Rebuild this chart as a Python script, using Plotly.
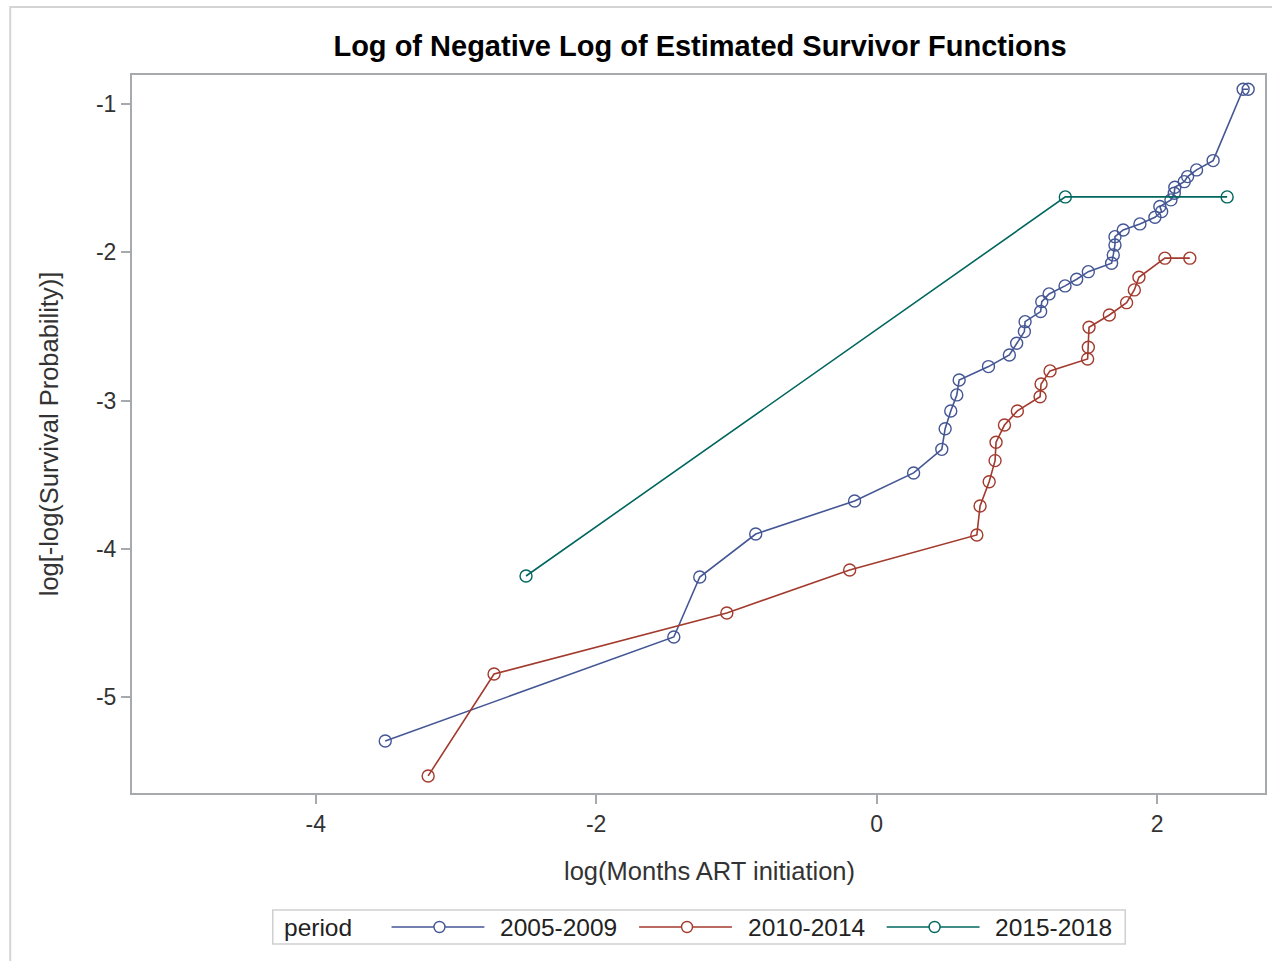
import plotly.graph_objects as go

# ---- data ----
x_2005 = [-3.504, -1.446, -1.261, -0.862, -0.157, 0.264, 0.465, 0.489, 0.529, 0.572, 0.589,
          0.798, 0.947, 0.999, 1.054, 1.059, 1.170, 1.178, 1.230, 1.344, 1.427, 1.510,
          1.676, 1.688, 1.700, 1.700, 1.759, 1.878, 1.985, 2.033, 2.020, 2.099, 2.123,
          2.127, 2.194, 2.218, 2.282, 2.400, 2.614, 2.650]
y_2005 = [-5.295, -4.594, -4.190, -3.900, -3.677, -3.488, -3.329, -3.190, -3.070, -2.962, -2.861,
          -2.771, -2.693, -2.614, -2.535, -2.468, -2.400, -2.333, -2.281, -2.227, -2.182, -2.131,
          -2.074, -2.018, -1.951, -1.895, -1.850, -1.809, -1.764, -1.726, -1.692, -1.647, -1.602,
          -1.562, -1.524, -1.490, -1.445, -1.382, -0.901, -0.901]

x_2010 = [-3.198, -2.728, -1.068, -0.192, 0.715, 0.738, 0.803, 0.845, 0.852, 0.912, 1.004,
          1.166, 1.173, 1.237, 1.505, 1.510, 1.515, 1.660, 1.783, 1.838, 1.871, 2.056, 2.234]
y_2010 = [-5.531, -4.844, -4.432, -4.142, -3.906, -3.711, -3.547, -3.405, -3.281, -3.165, -3.070,
          -2.974, -2.888, -2.800, -2.720, -2.641, -2.506, -2.423, -2.340, -2.254, -2.169, -2.040, -2.040]

x_2015 = [-2.500, 1.346, 2.500]
y_2015 = [-4.183, -1.627, -1.627]

series_names = ["2005-2009", "2010-2014", "2015-2018"]
series_colors = ["#445694", "#A23A2E", "#01665E"]
x_ticks = [-4, -2, 0, 2]
y_ticks = [-1, -2, -3, -4, -5]
legend_title = "period"
x_title = "log(Months ART initiation)"
y_title = "log[-log(Survival Probability)]"

FONT = "Liberation Sans, Arial, sans-serif"
W, H = 1272, 961
L, R, T, B = 132, 5, 75, 168
PW, PH = W - L - R, H - T - B


def px_x(px):
    return (px - L) / PW


def px_y(py):
    return (H - B - py) / PH


fig = go.Figure()
for name, xs, ys, col in zip(series_names, [x_2005, x_2010, x_2015],
                             [y_2005, y_2010, y_2015], series_colors):
    fig.add_trace(go.Scatter(
        x=xs, y=ys, name=name, mode="lines+markers",
        line=dict(color=col, width=1.6),
        marker=dict(symbol="circle-open", size=12, color=col, line=dict(width=1.4, color=col)),
        showlegend=False,
    ))

axis_common = dict(
    showgrid=False, zeroline=False, showline=True, linecolor="#A6AAAE", linewidth=2,
    mirror=True, ticks="outside", tickcolor="#A6AAAE", ticklen=9, tickwidth=1.5,
    tickfont=dict(family=FONT, size=23, color="#333333"),
)

# ---- legend drawn as a framed row (line + open circle + label per series) ----
shapes = [
    # outer frame of the graph
    dict(type="rect", xref="paper", yref="paper",
         x0=px_x(10), x1=px_x(1285), y0=px_y(975), y1=px_y(7),
         line=dict(color="#D4D4D4", width=2), layer="below"),
    # legend box
    dict(type="rect", xref="paper", yref="paper",
         x0=px_x(273), x1=px_x(1127), y0=px_y(944), y1=px_y(910),
         line=dict(color="#CFCFCF", width=1.5), fillcolor="white", layer="above"),
]
annotations = [
    dict(text=legend_title, xref="paper", yref="paper", x=px_x(282), y=px_y(927),
         xanchor="left", yanchor="middle", showarrow=False,
         font=dict(family=FONT, size=24.5, color="#222222")),
    dict(text=x_title, xref="paper", yref="paper", x=px_x(711), y=px_y(871),
         xanchor="center", yanchor="middle", showarrow=False,
         font=dict(family=FONT, size=25.5, color="#333333")),
]
line_starts = [392, 640, 888]
for name, col, x0 in zip(series_names, series_colors, line_starts):
    cy = px_y(927)
    shapes.append(dict(type="line", xref="paper", yref="paper",
                       x0=px_x(x0), x1=px_x(x0 + 93), y0=cy, y1=cy,
                       line=dict(color=col, width=1.6)))
    cx = x0 + 48
    shapes.append(dict(type="circle", xref="paper", yref="paper",
                       x0=px_x(cx - 5.5), x1=px_x(cx + 5.5),
                       y0=px_y(927 + 5.5), y1=px_y(927 - 5.5),
                       line=dict(color=col, width=1.4), fillcolor="white"))
    annotations.append(dict(text=name, xref="paper", yref="paper", x=px_x(x0 + 107), y=cy,
                            xanchor="left", yanchor="middle", showarrow=False,
                            font=dict(family=FONT, size=24.5, color="#222222")))

fig.update_layout(
    width=W, height=H,
    paper_bgcolor="white", plot_bgcolor="white",
    margin=dict(l=L, r=R, t=T, b=B),
    title=dict(text="<b>Log of Negative Log of Estimated Survivor Functions</b>",
               x=(700 / W), xanchor="center", y=1 - 46 / H, yanchor="middle",
               font=dict(family=FONT, size=29, color="#000000")),
    xaxis=dict(range=[-5.31, 2.77], tickvals=x_ticks, ticktext=[str(t) for t in x_ticks],
               **axis_common),
    yaxis=dict(range=[-5.646, -0.805], tickvals=y_ticks, ticktext=[str(t) for t in y_ticks],
               title=dict(text=y_title, standoff=30,
                          font=dict(family=FONT, size=25.5, color="#333333")),
               **axis_common),
    showlegend=False,
    shapes=shapes,
    annotations=annotations,
)

fig.write_html("out.html")
